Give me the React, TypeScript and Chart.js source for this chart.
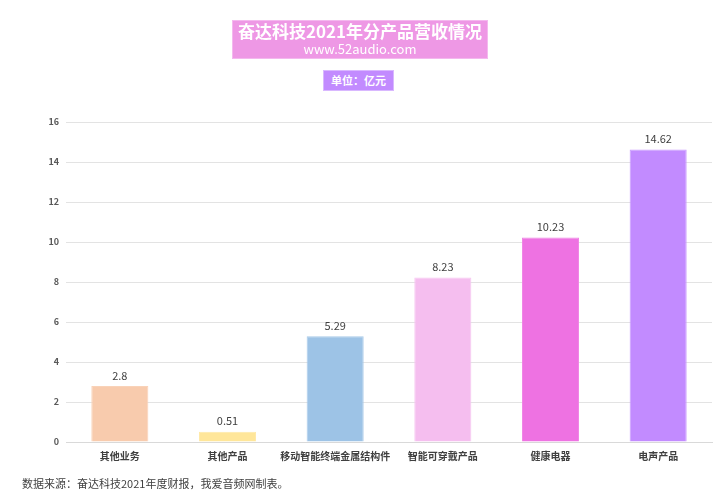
import React, { useEffect, useRef } from "react";
import { Chart, registerables } from "chart.js";

Chart.register(...registerables);

const categories = ["其他业务", "其他产品", "移动智能终端金属结构件", "智能可穿戴产品", "健康电器", "电声产品"];
const revenue = [2.8, 0.51, 5.29, 8.23, 10.23, 14.62];
const revenueLabels = ["2.8", "0.51", "5.29", "8.23", "10.23", "14.62"];
const barColors = ["#F8CBAD", "#FFE699", "#9DC3E6", "#F5BEEF", "#EE72E2", "#C28BFF"];
const borderColors = ["#F9D2B8", "#FFE9A6", "#A8CAE9", "#F7C6F1", "#F083E5", "#C99AFF"];
const yTicks = [0, 2, 4, 6, 8, 10, 12, 14, 16];

const FONT = '"Noto Sans CJK SC", "Noto Sans", sans-serif';

const labelPlugin = {
  id: "valueLabels",
  afterDatasetsDraw(chart: any) {
    const ctx = chart.ctx;
    const meta = chart.getDatasetMeta(0);
    ctx.save();
    ctx.font = `11px ${FONT}`;
    ctx.fillStyle = "#404040";
    ctx.textAlign = "center";
    ctx.textBaseline = "bottom";
    meta.data.forEach((bar: any, i: number) => {
      ctx.fillText(revenueLabels[i], bar.x, bar.y - 5);
    });
    ctx.restore();
  },
};

export default function App() {
  const ref = useRef<HTMLCanvasElement>(null);
  useEffect(() => {
    if (!ref.current) return;
    const chart = new Chart(ref.current, {
      type: "bar",
      data: {
        labels: categories,
        datasets: [
          {
            data: revenue,
            backgroundColor: barColors,
            borderColor: borderColors,
            borderWidth: 1,
            categoryPercentage: 0.53,
            barPercentage: 1,
          },
        ],
      },
      options: {
        animation: false,
        responsive: false,
        layout: { padding: { top: 122, right: 8, bottom: 22, left: 0 } },
        plugins: { legend: { display: false }, tooltip: { enabled: false } },
        scales: {
          x: {
            grid: { display: false, drawTicks: false },
            border: { display: true, color: "#d9d9d9", width: 1 },
            ticks: {
              color: "#404040",
              font: { family: FONT, size: 10, weight: "bold" },
              padding: 8,
              maxRotation: 0,
              autoSkip: false,
            },
            afterFit(scale: any) {
              scale.height = 34;
            },
          },
          y: {
            min: 0,
            max: 16,
            afterBuildTicks(scale: any) {
              scale.ticks = yTicks.map((v) => ({ value: v }));
            },
            grid: { color: "#e3e3e3", drawTicks: false },
            border: { display: false },
            ticks: {
              color: "#595959",
              font: { family: FONT, size: 9, weight: "bold" },
              padding: 7,
            },
            afterFit(scale: any) {
              scale.width = 66;
            },
          },
        },
      },
      plugins: [labelPlugin],
    } as any);
    return () => chart.destroy();
  }, []);

  return (
    <div style={{ position: "fixed", left: 0, top: 0, width: 720, height: 498, background: "#fff", fontFamily: FONT }}>
      <canvas ref={ref} width={720} height={498} style={{ position: "absolute", left: 0, top: 0 }} />
      <div
        style={{
          position: "absolute",
          left: 232,
          top: 20,
          width: 256,
          height: 39,
          background: "#EE98E5",
          border: "1px solid #F4B8EE",
          boxSizing: "border-box",
          color: "#fff",
          textAlign: "center",
        }}
      >
        <div style={{ fontSize: 17, fontWeight: "bold", lineHeight: "20px", marginTop: 0 }}>奋达科技2021年分产品营收情况</div>
        <div style={{ fontSize: 13, lineHeight: "16px" }}>www.52audio.com</div>
      </div>
      <div
        style={{
          position: "absolute",
          left: 323,
          top: 70,
          width: 71,
          height: 21,
          background: "#C28BFF",
          border: "1px solid #D9B8FF",
          boxSizing: "border-box",
          color: "#fff",
          fontSize: 11,
          fontWeight: "bold",
          lineHeight: "19px",
          textAlign: "center",
        }}
      >
        单位：亿元
      </div>
      <div style={{ position: "absolute", left: 22, top: 475, fontSize: 11, color: "#404040", lineHeight: "16px" }}>
        数据来源：奋达科技2021年度财报，我爱音频网制表。
      </div>
    </div>
  );
}
